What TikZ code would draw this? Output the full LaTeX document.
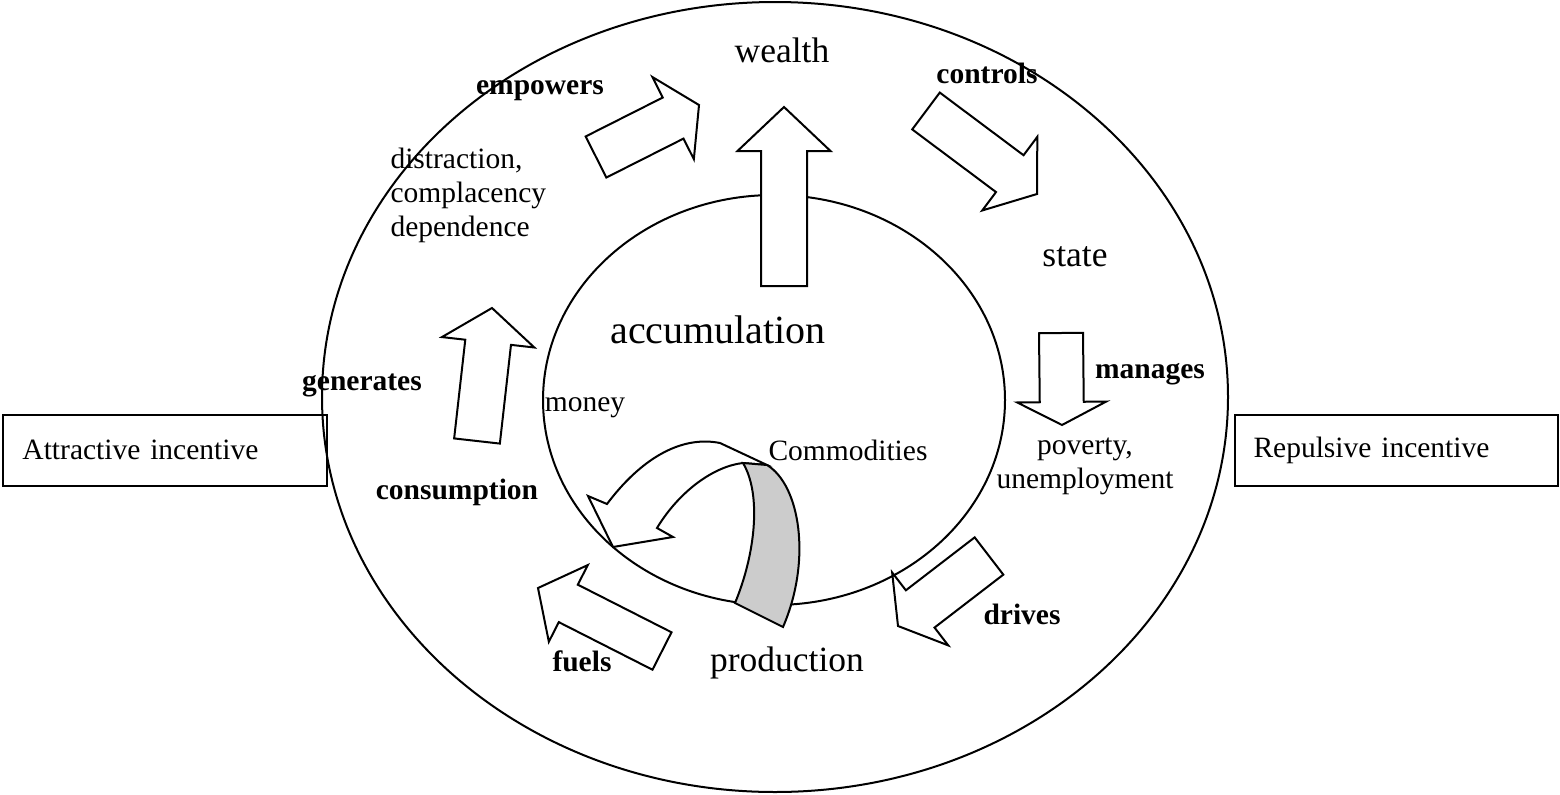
\documentclass[tikz,border=0pt]{standalone}
\usepackage{fontspec}
\setmainfont{Liberation Serif}
\usetikzlibrary{calc}
\definecolor{ink}{HTML}{000000}
\definecolor{shade}{HTML}{CCCCCC}
\tikzset{
  ring/.style={draw=ink, line width=0.8pt},
  fat/.style={draw=ink, fill=white, line width=0.8pt, line join=miter},
  %
  word/.style={font=\fontsize{11.8}{13.6}\selectfont, text=ink, inner sep=0pt},
  verb/.style={word, font=\fontsize{11.8}{13.6}\selectfont\bfseries},
  big/.style={word, font=\fontsize{14.2}{17}\selectfont},
  huge/.style={word, font=\fontsize{16}{19}\selectfont},
  %
  incbox/.style={word, draw=ink, line width=0.8pt, inner xsep=7.6pt,
                 inner ysep=0pt, text width=114pt, align=left,
                 minimum height=28.4pt},
}
% block arrow: tail, tip, half shaft, half head, head length (pixels)
\newcommand\fatarrow[5]{%
  \coordinate (neck) at ($(#2)!#5*0.4pt!(#1)$);
  \draw[fat] ($(#1)!#3*0.4pt!90:(#2)$) -- ($(neck)!#3*0.4pt!90:(#2)$)
    -- ($(neck)!#4*0.4pt!90:(#2)$) -- (#2)
    -- ($(neck)!#4*0.4pt!-90:(#2)$) -- ($(neck)!#3*0.4pt!-90:(#2)$)
    -- ($(#1)!#3*0.4pt!-90:(#2)$) -- cycle;
}

\begin{document}
\begin{tikzpicture}[x=0.4pt, y=-0.4pt]
  \useasboundingbox (0,0) rectangle (1560,794);

  % --- the two rings -----------------------------------------------------
  \draw[ring] (775,397) ellipse [x radius=453, y radius=395];
  \draw[ring] (774,400) ellipse [x radius=231, y radius=205];

  % --- the cycle around the rings ----------------------------------------
  \node[big] (wealth) at (782,50) {wealth};
  \node[big] (state) at (1075,257) {state};
  \node[word, align=center] (poverty) at (1085,466) {poverty,\\unemployment};
  \node[big] (production) at (787,663) {production};
  \node[verb] (consumption) at (457,492) {consumption};
  \node[word, anchor=west, align=left] (distraction) at (390,195)
    {distraction,\\complacency\\dependence};

  \node[huge] (accumulation) at (718,330) {accumulation};
  \node[word] (money) at (585,408) {money};
  \node[word] (commodities) at (848,450) {Commodities};

  \node[verb] (empowers) at (540,91) {empowers};
  \node[verb] (controls) at (987,73) {controls};
  \node[verb] (manages) at (1150,374) {manages};
  \node[verb] (drives) at (1022,614) {drives};
  \node[verb] (fuels) at (582,661) {fuels};
  \node[verb] (generates) at (362,385) {generates};

  % --- the block arrows --------------------------------------------------
  \coordinate (acc0) at (784,286);   \coordinate (acc1) at (784,107);
  \coordinate (emp0) at (596,157);   \coordinate (emp1) at (699,105);
  \coordinate (ctl0) at (926,111);   \coordinate (ctl1) at (1037,194);
  \coordinate (mng0) at (1061,333);  \coordinate (mng1) at (1062,425);
  \coordinate (drv0) at (989,556);   \coordinate (drv1) at (898,626);
  \coordinate (fue0) at (662,651);   \coordinate (fue1) at (538,588);
  \coordinate (gen0) at (477,441);   \coordinate (gen1) at (492,308);

  \fatarrow{acc0}{acc1}{23}{46.5}{44}
  \fatarrow{emp0}{emp1}{23}{46}{29}
  \fatarrow{ctl0}{ctl1}{23}{46}{34}
  \fatarrow{mng0}{mng1}{22}{44.5}{23}
  \fatarrow{drv0}{drv1}{23.5}{46}{28}
  \fatarrow{fue0}{fue1}{21}{43}{34}
  \fatarrow{gen0}{gen1}{23}{46.5}{34.5}

  % --- commodities turning back into money -------------------------------
  \draw[fat] (743,463) .. controls (715,466) and (680,490) .. (657,528)
    -- (673,537) -- (613,547) -- (588,496) -- (607,504)
    .. controls (640,460) and (680,435) .. (720,443) -- (767,465) -- cycle;
  \draw[ring, fill=shade] (743,463) -- (767,465)
    .. controls (800,485) and (812,560) .. (783,627) -- (735,603)
    .. controls (755,555) and (762,495) .. (743,463) -- cycle;

  % --- the incentives ----------------------------------------------------
  \node[incbox] (attract) at (165,450) {Attractive incentive};
  \node[incbox] (repulse) at (1396,450) {Repulsive incentive};
\end{tikzpicture}
\end{document}
